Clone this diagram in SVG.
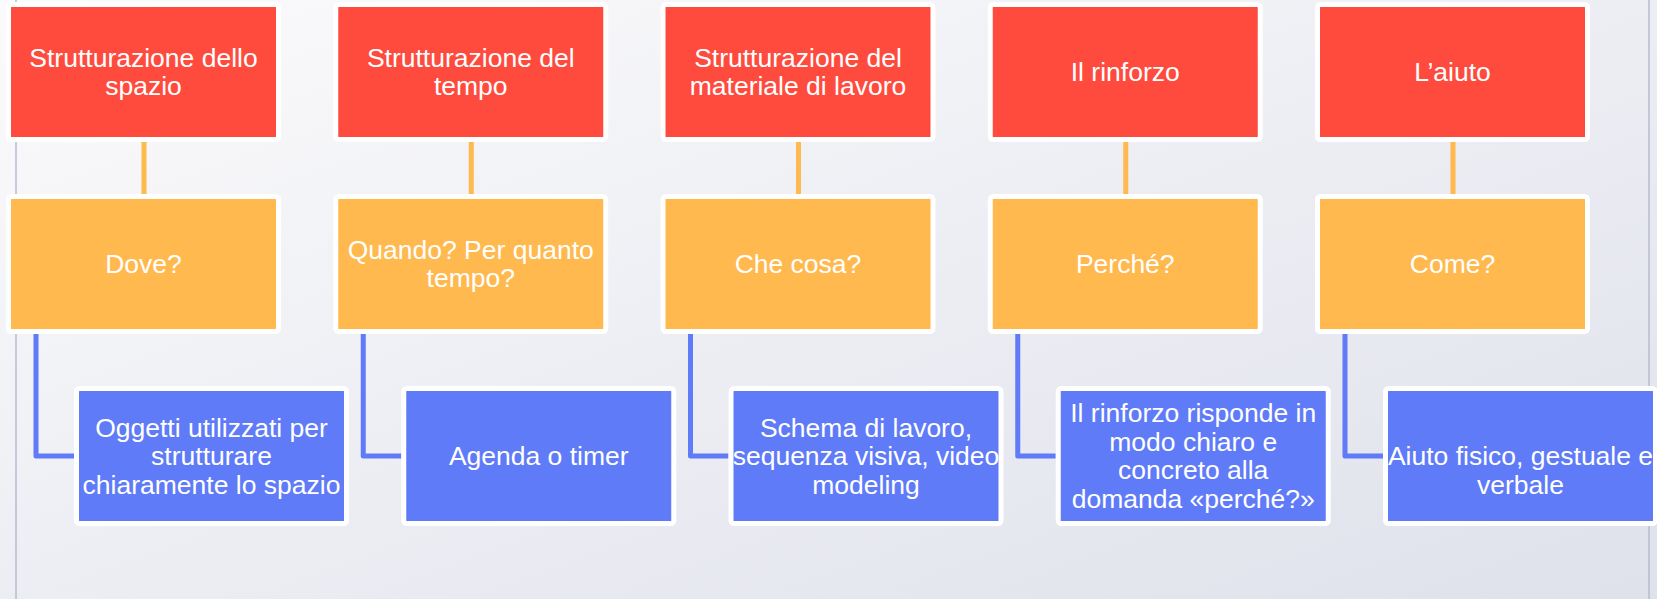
<svg xmlns="http://www.w3.org/2000/svg" width="1657" height="599" viewBox="0 0 1657 599">
<defs>
<linearGradient id="bg" x1="0" y1="0" x2="1" y2="1" gradientUnits="objectBoundingBox">
<stop offset="0" stop-color="#fbfbfc"/>
<stop offset="1" stop-color="#dfe1eb"/>
</linearGradient>
<style>
.box{stroke:#ffffff;stroke-width:5}
.red{fill:#ff4a3e}
.org{fill:#ffb94e}
.blu{fill:#5f7bf7}
.t{font-family:"Liberation Sans",Arial,sans-serif;font-size:26.5px;fill:#ffffff;text-anchor:middle}
.co{stroke:#ffb94e;stroke-width:5;fill:none}
.cb{stroke:#5f7bf7;stroke-width:5;fill:none;stroke-linejoin:round}
.rule{stroke:#b6bccf;stroke-width:1.5}
</style>
</defs>
<rect x="0" y="0" width="1657" height="599" fill="url(#bg)"/>
<line class="rule" x1="16" y1="0" x2="16" y2="599"/>
<line class="rule" x1="1649" y1="0" x2="1649" y2="599"/>
<g id="connectors">
<line class="co" x1="144" y1="142" x2="144" y2="194"/>
<line class="co" x1="471.25" y1="142" x2="471.25" y2="194"/>
<line class="co" x1="798.5" y1="142" x2="798.5" y2="194"/>
<line class="co" x1="1125.75" y1="142" x2="1125.75" y2="194"/>
<line class="co" x1="1453" y1="142" x2="1453" y2="194"/>
<path class="cb" d="M36,334 V456 H74"/>
<path class="cb" d="M363.25,334 V456 H401.25"/>
<path class="cb" d="M690.5,334 V456 H728.5"/>
<path class="cb" d="M1017.75,334 V456 H1055.75"/>
<path class="cb" d="M1345,334 V456 H1383"/>
</g>
<g id="n1a"><rect class="box red" x="8.5" y="4.5" width="270" height="135" rx="3"/><text class="t" x="143.5" y="66.75">Strutturazione dello</text><text class="t" x="143.5" y="95.25">spazio</text></g>
<g id="n1b"><rect class="box org" x="8.5" y="196.5" width="270" height="135" rx="3"/><text class="t" x="143.5" y="273">Dove?</text></g>
<g id="n1c"><rect class="box blu" x="76.5" y="388.5" width="270" height="135" rx="3"/><text class="t" x="211.5" y="436.5">Oggetti utilizzati per</text><text class="t" x="211.5" y="465">strutturare</text><text class="t" x="211.5" y="493.5">chiaramente lo spazio</text></g>
<g id="n2a"><rect class="box red" x="335.75" y="4.5" width="270" height="135" rx="3"/><text class="t" x="470.75" y="66.75">Strutturazione del</text><text class="t" x="470.75" y="95.25">tempo</text></g>
<g id="n2b"><rect class="box org" x="335.75" y="196.5" width="270" height="135" rx="3"/><text class="t" x="470.75" y="258.75">Quando? Per quanto</text><text class="t" x="470.75" y="287.25">tempo?</text></g>
<g id="n2c"><rect class="box blu" x="403.75" y="388.5" width="270" height="135" rx="3"/><text class="t" x="538.75" y="465">Agenda o timer</text></g>
<g id="n3a"><rect class="box red" x="663" y="4.5" width="270" height="135" rx="3"/><text class="t" x="798" y="66.75">Strutturazione del</text><text class="t" x="798" y="95.25">materiale di lavoro</text></g>
<g id="n3b"><rect class="box org" x="663" y="196.5" width="270" height="135" rx="3"/><text class="t" x="798" y="273">Che cosa?</text></g>
<g id="n3c"><rect class="box blu" x="731" y="388.5" width="270" height="135" rx="3"/><text class="t" x="866" y="436.5">Schema di lavoro,</text><text class="t" x="866" y="465">sequenza visiva, video</text><text class="t" x="866" y="493.5">modeling</text></g>
<g id="n4a"><rect class="box red" x="990.25" y="4.5" width="270" height="135" rx="3"/><text class="t" x="1125.25" y="81">Il rinforzo</text></g>
<g id="n4b"><rect class="box org" x="990.25" y="196.5" width="270" height="135" rx="3"/><text class="t" x="1125.25" y="273">Perché?</text></g>
<g id="n4c"><rect class="box blu" x="1058.25" y="388.5" width="270" height="135" rx="3"/><text class="t" x="1193.25" y="422.25">Il rinforzo risponde in</text><text class="t" x="1193.25" y="450.75">modo chiaro e</text><text class="t" x="1193.25" y="479.25">concreto alla</text><text class="t" x="1193.25" y="507.75">domanda «perché?»</text></g>
<g id="n5a"><rect class="box red" x="1317.5" y="4.5" width="270" height="135" rx="3"/><text class="t" x="1452.5" y="81">L’aiuto</text></g>
<g id="n5b"><rect class="box org" x="1317.5" y="196.5" width="270" height="135" rx="3"/><text class="t" x="1452.5" y="273">Come?</text></g>
<g id="n5c"><rect class="box blu" x="1385.5" y="388.5" width="270" height="135" rx="3"/><text class="t" x="1520.5" y="465">Aiuto fisico, gestuale e</text><text class="t" x="1520.5" y="493.5">verbale</text></g>
</svg>
